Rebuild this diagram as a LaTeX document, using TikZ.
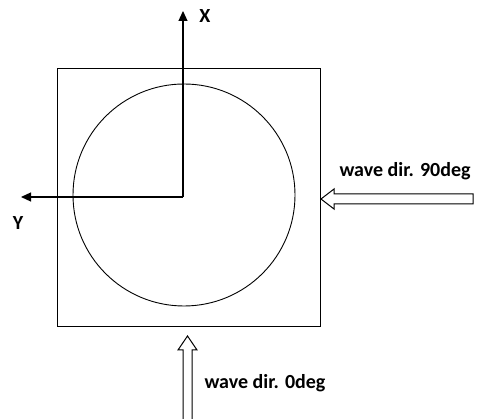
\documentclass[tikz,border=0pt]{standalone}
\usepackage{fontspec}
\setmainfont{Carlito}
\usetikzlibrary{arrows.meta}

\tikzset{
  axis/.style={-{Triangle[length=10pt,width=9pt]},line width=1.2pt},
  lbl/.style={font=\bfseries\fontsize{20}{24}\selectfont},
  blockarrow/.style={draw,line width=1pt,fill=white}
}

\begin{document}
\begin{tikzpicture}[x=1pt,y=-1pt]
    \useasboundingbox (0,0) rectangle (483,419);
    % body and waterline
    \draw[line width=0.9pt] (57,68) rectangle (320,326);
    \draw[line width=0.9pt] (184,195) circle (111);
    % axes
    \coordinate (O) at (183,197);
    \coordinate (xend) at (183,11);
    \coordinate (yend) at (21,197);
    \draw[axis] (O) -- (xend);
    \draw[axis] (O) -- (yend);
    \node[lbl] (xlbl) at (205,16) {X};
    \node[lbl] (ylbl) at (18,223) {Y};
    % wave directions
    \draw[blockarrow] (473,194) -- (334,194) -- (334,189) -- (321,199) -- (334,209) -- (334,204) -- (473,204) -- cycle;
    \node[lbl,anchor=west] (w90) at (336,171) {wave dir. 90deg};
    \draw[blockarrow] (183,419) -- (183,350) -- (178,350) -- (187.5,336) -- (197,350) -- (192,350) -- (192,419);
    \node[lbl,anchor=west] (w0) at (201,383) {wave dir. 0deg};
\end{tikzpicture}
\end{document}
